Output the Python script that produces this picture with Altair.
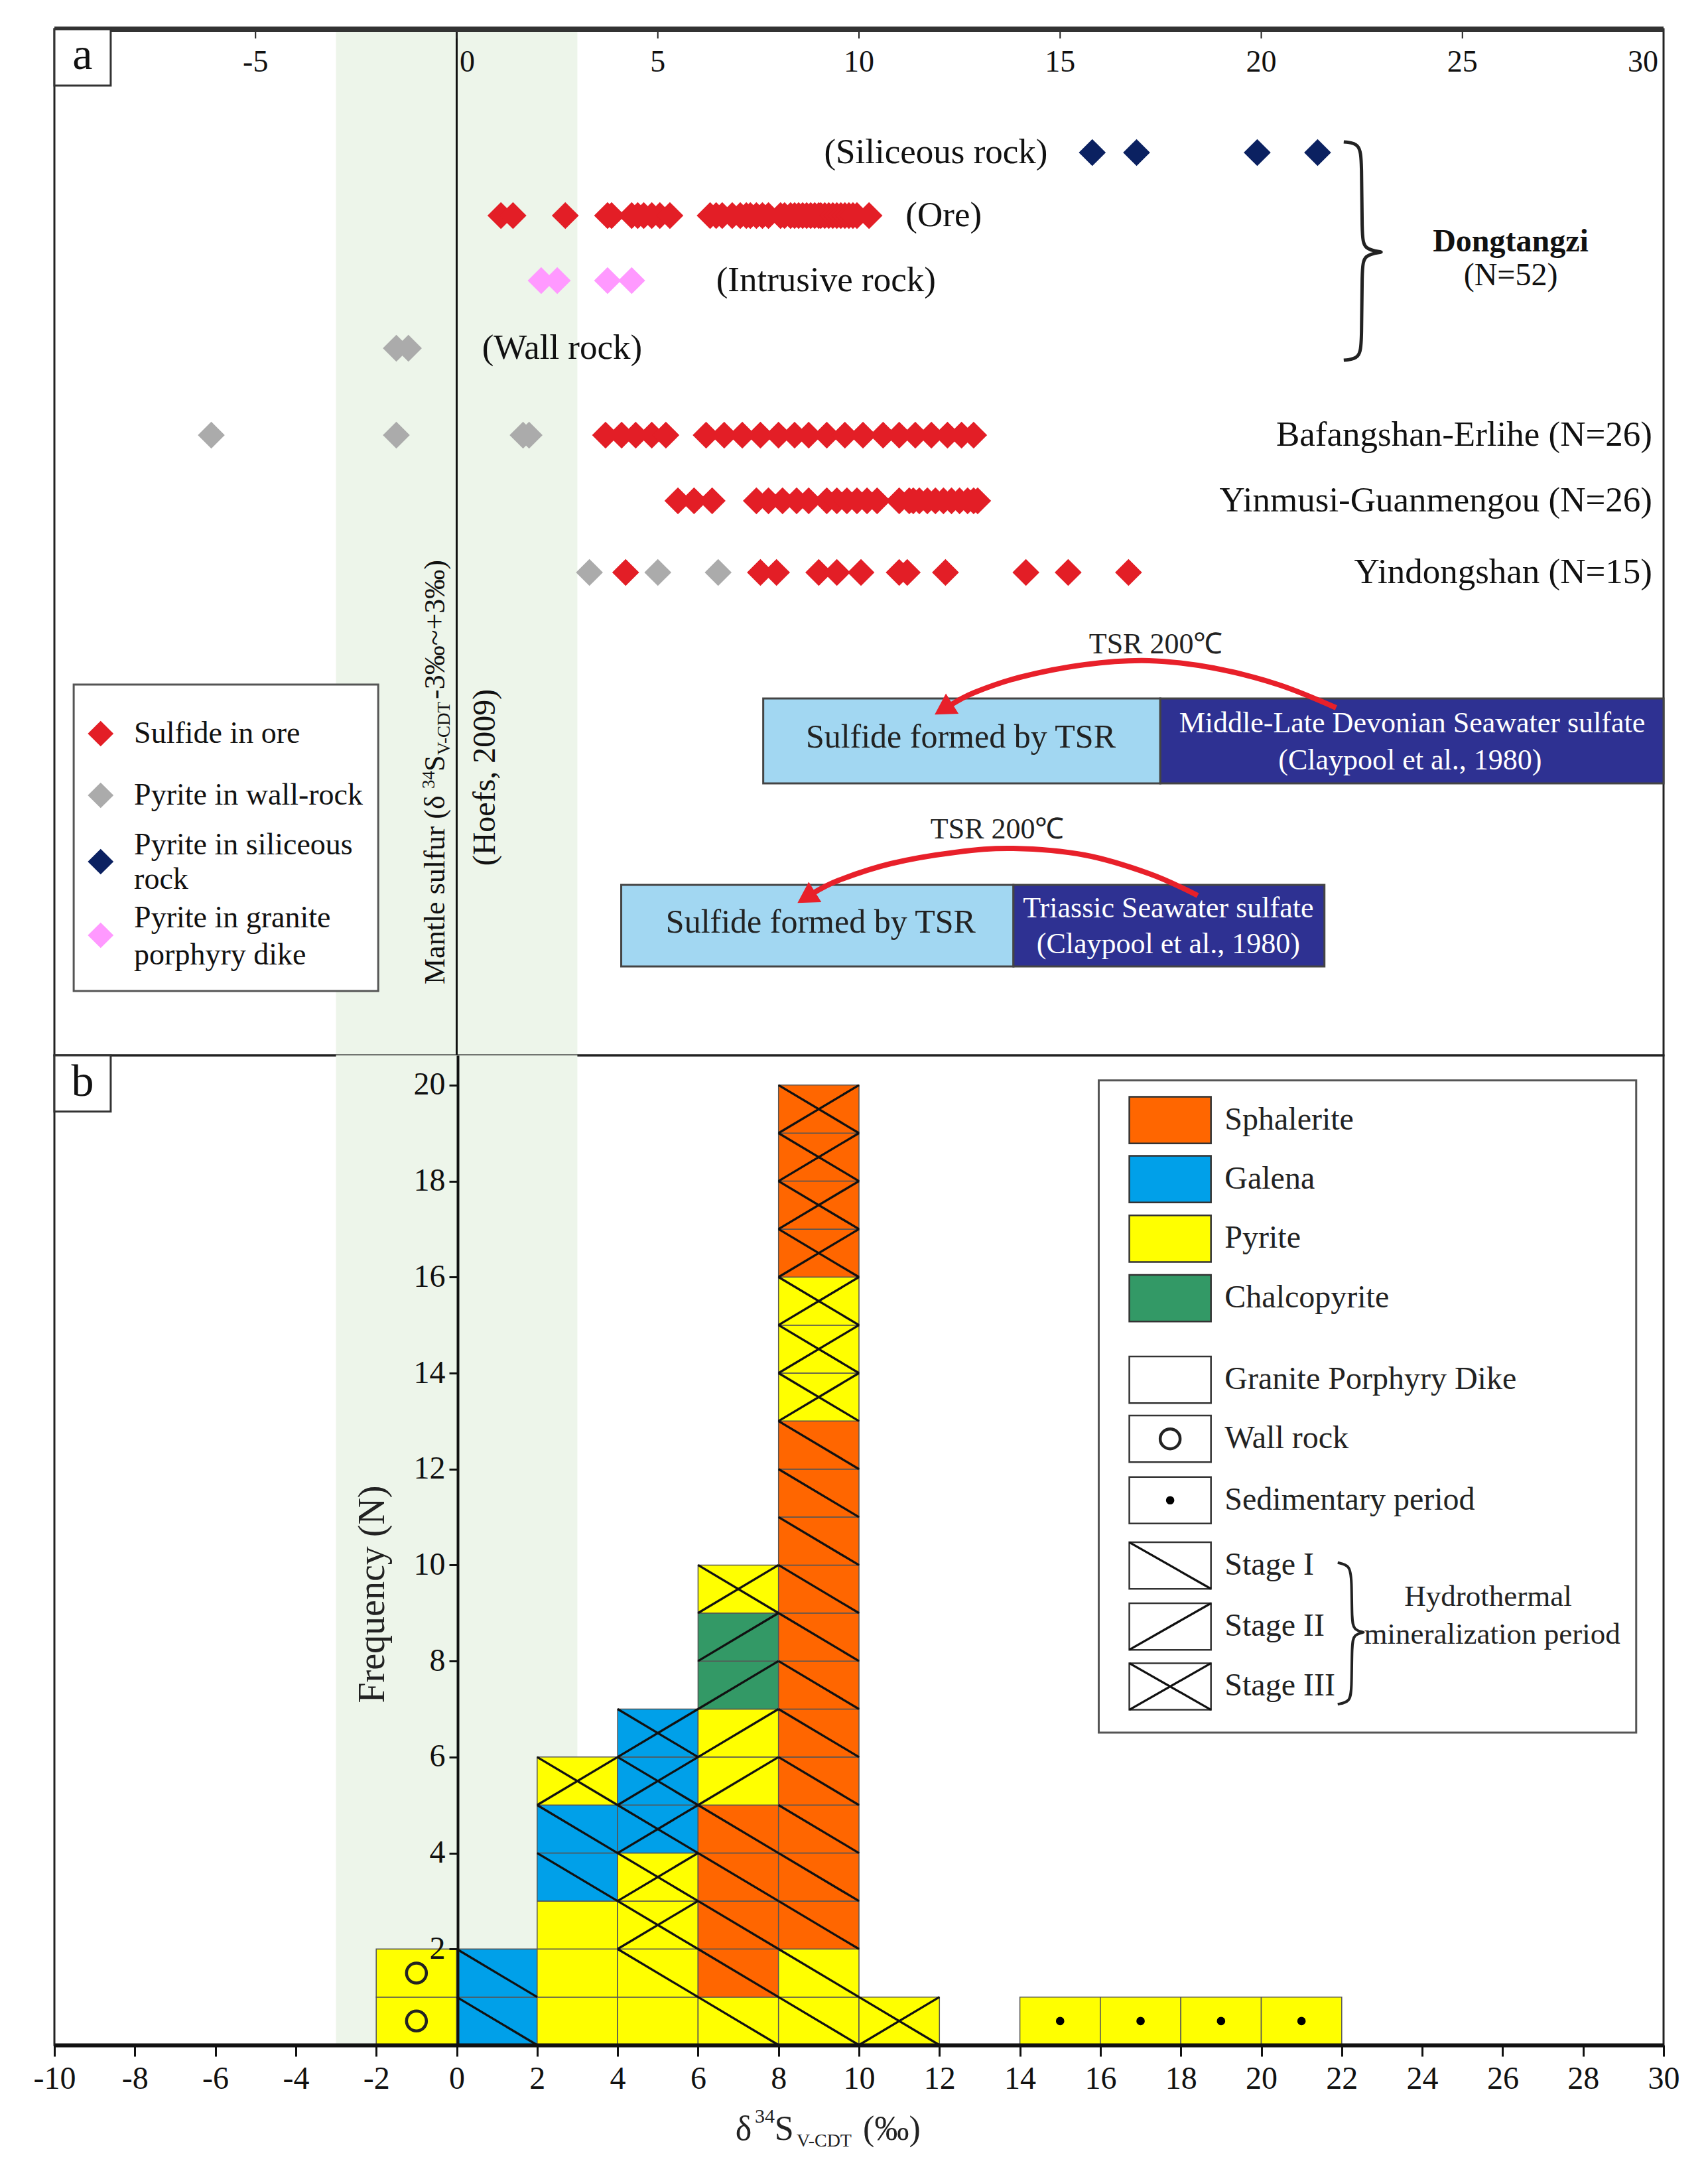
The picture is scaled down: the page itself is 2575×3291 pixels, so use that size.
import altair as alt
import pandas as pd

# ------------------------------------------------------------------ data
# panel a : individual δ34S analyses (‰)
siliceous_rock = [15.8, 16.9, 19.9, 21.4]
dongtangzi_ore = [1.1, 1.4, 2.7, 3.75, 3.85, 4.35, 4.5, 4.65, 4.85, 5.05, 5.3,
                  6.3, 6.45, 6.6, 6.85, 7.05, 7.2, 7.3, 7.45, 7.6, 7.75,
                  8.05, 8.15, 8.3, 8.4, 8.5, 8.6, 8.7, 8.8, 8.9, 9.0, 9.05, 9.15,
                  9.25, 9.35, 9.45, 9.55, 9.65, 9.75, 9.85, 9.95, 10.25]
intrusive_rock = [2.1, 2.5, 3.75, 4.35]
dongtangzi_wall = [-1.5, -1.2]
bafangshan_wall = [-6.1, -1.5, 1.65, 1.8]
bafangshan_ore = [3.7, 4.1, 4.45, 4.85, 5.2, 6.2, 6.65, 7.1, 7.55, 8.0, 8.4, 8.75,
                  9.2, 9.65, 10.1, 10.6, 11.0, 11.4, 11.8, 12.2, 12.55, 12.85]
yinmusi_ore = [5.5, 5.9, 6.35, 7.45, 7.75, 8.1, 8.45, 8.75, 9.2, 9.45, 9.7, 9.95,
               10.2, 10.45, 11.0, 11.25, 11.35, 11.5, 11.7, 11.9, 12.1, 12.3,
               12.5, 12.7, 12.85, 12.95]
yindongshan_wall = [3.3, 5.0, 6.5]
yindongshan_ore = [4.2, 7.55, 7.95, 9.0, 9.45, 10.05, 11.0, 11.2, 12.15, 14.15, 15.2, 16.7]

# seawater-sulfate / TSR ranges (‰)
devonian_tsr = [7.62, 17.49]
devonian_sulfate = [17.49, 30.0]
triassic_tsr = [4.09, 13.84]
triassic_sulfate = [13.84, 21.57]

# panel b : histogram, bin start -> cells stacked bottom-to-top "mineral:stage"
hist_bins = [-2, 0, 2, 4, 6, 8, 10, 14, 16, 18, 20]
hist_cells = [
    ["Py:W", "Py:W"],
    ["Gn:I", "Gn:I"],
    ["Py:D", "Py:D", "Py:D", "Gn:I", "Gn:I", "Py:III"],
    ["Py:D", "Py:I", "Py:III", "Py:III", "Gn:III", "Gn:III", "Gn:III"],
    ["Py:I", "Sp:I", "Sp:I", "Sp:I", "Sp:I", "Py:II", "Py:II", "Cp:II", "Cp:II", "Py:III"],
    ["Py:I", "Py:I"] + ["Sp:I"] * 11 + ["Py:III"] * 3 + ["Sp:III"] * 4,
    ["Py:III"],
    ["Py:S"], ["Py:S"], ["Py:S"], ["Py:S"],
]
minerals = ["Sp", "Gn", "Py", "Cp"]
mineral_names = ["Sphalerite", "Galena", "Pyrite", "Chalcopyrite"]
mineral_colors = ["#FF6600", "#00A0E9", "#FFFF00", "#339966"]

kinds = ["Sulfide in ore", "Pyrite in wall-rock", "Pyrite in siliceous rock",
         "Pyrite in granite porphyry dike"]
kind_colors = ["#E31E26", "#ABABAB", "#0B2161", "#FF99FF"]
KC = dict(zip(kinds, kind_colors))
MC = dict(zip(minerals, mineral_colors))

# ------------------------------------------------------------------ layout
FONT = "Liberation Serif"
W = 2426
HA_PX, HB_PX = 1547, 1492
HA = 15.47          # panel a vertical extent (track units)
HB = 20.62          # panel b vertical extent (frequency)
BAND = "#EDF5EA"
RED = "#E8202A"

XS = alt.Scale(domain=[-10, 30], nice=False, zero=False)
YA = alt.Scale(domain=[0, HA], reverse=True, nice=False, zero=False)
YB = alt.Scale(domain=[0, HB], nice=False, zero=False)

XB_AXIS = alt.Axis(values=list(range(-10, 31, 2)), labelExpr="'' + datum.value",
                   labelFont=FONT, labelFontSize=48, labelColor="#111",
                   tickSize=17, tickWidth=3, tickColor="#111", domainColor="#111",
                   domainWidth=6, labelPadding=10, title=None, grid=False,
                   labelFlush=False, labelOverlap=False, zindex=1)
YB_AXIS = alt.Axis(values=list(range(2, 21, 2)), offset=-608, labelFont=FONT,
                   labelFontSize=48, labelColor="#111", tickSize=13, tickWidth=3,
                   tickColor="#111", domainColor="#111", domainWidth=4,
                   labelPadding=6, title=None, grid=False, zindex=1)


def ea(**kw):
    out = {}
    for ch, f in kw.items():
        if ch == "x":
            out["x"] = alt.X(f, type="quantitative", scale=XS, axis=None)
        elif ch == "y":
            out["y"] = alt.Y(f, type="quantitative", scale=YA, axis=None)
        elif ch == "x2":
            out["x2"] = alt.X2(f)
        elif ch == "y2":
            out["y2"] = alt.Y2(f)
        else:
            out[ch] = f
    return out


def eb(**kw):
    out = {}
    for ch, f in kw.items():
        if ch == "x":
            out["x"] = alt.X(f, type="quantitative", scale=XS, axis=XB_AXIS)
        elif ch == "y":
            out["y"] = alt.Y(f, type="quantitative", scale=YB, axis=YB_AXIS)
        elif ch == "x2":
            out["x2"] = alt.X2(f)
        elif ch == "y2":
            out["y2"] = alt.Y2(f)
        else:
            out[ch] = f
    return out


def df(**cols):
    return pd.DataFrame(cols)


HEX = alt.Color("c:N", scale=None)

# ================================================================== panel a
ROW_Y = {"sil": 1.86, "ore": 2.81, "intr": 3.79, "wall": 4.81,
         "baf": 6.12, "yin": 7.11, "ydk": 8.19}

pts = []
for vals, row, kind in [
    (siliceous_rock, "sil", kinds[2]), (dongtangzi_ore, "ore", kinds[0]),
    (intrusive_rock, "intr", kinds[3]), (dongtangzi_wall, "wall", kinds[1]),
    (bafangshan_wall, "baf", kinds[1]), (bafangshan_ore, "baf", kinds[0]),
    (yinmusi_ore, "yin", kinds[0]),
    (yindongshan_wall, "ydk", kinds[1]), (yindongshan_ore, "ydk", kinds[0]),
]:
    for v in vals:
        pts.append({"x": v, "y": ROW_Y[row], "kind": kind, "c": KC[kind]})
pts = pd.DataFrame(pts)

a_layers = []
a_layers.append(alt.Chart(df(x=[-3], x2=[3], y=[0], y2=[HA])).mark_rect(color=BAND)
                .encode(**ea(x="x", x2="x2", y="y", y2="y2")))
a_layers.append(alt.Chart(df(x=[0], y=[0], y2=[HA])).mark_rule(color="#111", strokeWidth=3)
                .encode(**ea(x="x", y="y", y2="y2")))
# top scale
top_vals = [-5, 0, 5, 10, 15, 20, 25]
a_layers.append(alt.Chart(df(x=top_vals, y=[0] * 7, y2=[0.14] * 7))
                .mark_rule(color="#222", strokeWidth=2).encode(**ea(x="x", y="y", y2="y2")))
a_layers.append(alt.Chart(df(x=[-5, 5, 10, 15, 20, 25], y=[0.5] * 6,
                             t=["-5", "5", "10", "15", "20", "25"]))
                .mark_text(fontSize=46, color="#111").encode(**ea(x="x", y="y", text="t:N")))
a_layers.append(alt.Chart(df(x=[0], y=[0.5], t=["0"]))
                .mark_text(fontSize=46, color="#111", dx=16).encode(**ea(x="x", y="y", text="t:N")))
a_layers.append(alt.Chart(df(x=[30], y=[0.5], t=["30"]))
                .mark_text(fontSize=46, color="#111", align="right", dx=-8)
                .encode(**ea(x="x", y="y", text="t:N")))
a_layers.append(alt.Chart(df(x=[-10], x2=[30], y=[0])).mark_rule(color="#333", strokeWidth=8)
                .encode(**ea(x="x", x2="x2", y="y")))
# "a" box
a_layers.append(alt.Chart(df(x=[-10], x2=[-8.6], y=[0], y2=[0.85]))
                .mark_rect(fill="white", stroke="#333", strokeWidth=3)
                .encode(**ea(x="x", x2="x2", y="y", y2="y2")))
a_layers.append(alt.Chart(df(x=[-9.3], y=[0.40], t=["a"]))
                .mark_text(fontSize=68, color="#111").encode(**ea(x="x", y="y", text="t:N")))
# data diamonds
a_layers.append(alt.Chart(pts).mark_point(shape="diamond", filled=True, size=1650, opacity=1)
                .encode(**ea(x="x", y="y", color=HEX)))
# row labels
a_layers.append(alt.Chart(df(x=[14.69], y=[ROW_Y["sil"]], t=["(Siliceous rock)"]))
                .mark_text(fontSize=53, align="right", color="#111")
                .encode(**ea(x="x", y="y", text="t:N")))
a_layers.append(alt.Chart(df(x=[11.16, 6.45, 0.63],
                             y=[ROW_Y["ore"], ROW_Y["intr"], ROW_Y["wall"]],
                             t=["(Ore)", "(Intrusive rock)", "(Wall rock)"]))
                .mark_text(fontSize=53, align="left", color="#111")
                .encode(**ea(x="x", y="y", text="t:N")))
a_layers.append(alt.Chart(df(x=[29.72] * 3, y=[ROW_Y["baf"], ROW_Y["yin"], ROW_Y["ydk"]],
                             t=["Bafangshan-Erlihe (N=26)", "Yinmusi-Guanmengou (N=26)",
                                "Yindongshan (N=15)"]))
                .mark_text(fontSize=53, align="right", color="#111")
                .encode(**ea(x="x", y="y", text="t:N")))
# Dongtangzi brace + label
brace_a = df(x=[22.05, 22.45, 22.5, 22.5, 22.55, 23.0, 23.0, 22.55, 22.5, 22.5, 22.45, 22.05],
             y=[1.70, 1.72, 2.0, 3.1, 3.32, 3.36, 3.36, 3.40, 3.62, 4.7, 4.97, 4.99],
             i=list(range(12)))
a_layers.append(alt.Chart(brace_a).mark_line(interpolate="basis", color="#222", strokeWidth=5)
                .encode(**ea(x="x", y="y", order=alt.Order("i:Q"))))
a_layers.append(alt.Chart(df(x=[26.2], y=[3.21], t=["Dongtangzi"]))
                .mark_text(fontSize=48, fontWeight="bold", color="#111")
                .encode(**ea(x="x", y="y", text="t:N")))
a_layers.append(alt.Chart(df(x=[26.2], y=[3.72], t=["(N=52)"]))
                .mark_text(fontSize=48, color="#111").encode(**ea(x="x", y="y", text="t:N")))
# legend of panel a
a_layers.append(alt.Chart(df(x=[-9.52], x2=[-1.95], y=[9.88], y2=[14.5]))
                .mark_rect(fill="white", stroke="#555", strokeWidth=3)
                .encode(**ea(x="x", x2="x2", y="y", y2="y2")))
a_layers.append(alt.Chart(df(x=[-8.85] * 4, y=[10.62, 11.55, 12.55, 13.66], c=kind_colors))
                .mark_point(shape="diamond", filled=True, size=1500, opacity=1)
                .encode(**ea(x="x", y="y", color=HEX)))
a_layers.append(alt.Chart(df(x=[-8.02] * 6, y=[10.62, 11.55, 12.30, 12.82, 13.40, 13.96],
                             t=["Sulfide in ore", "Pyrite in wall-rock", "Pyrite in siliceous",
                                "rock", "Pyrite in granite", "porphyry dike"]))
                .mark_text(fontSize=46, align="left", color="#111")
                .encode(**ea(x="x", y="y", text="t:N")))
# mantle sulfur label (rotated)
for txt, fs, x, y in [("Mantle sulfur (δ", 44, -0.30, 14.40), ("34", 27, -0.56, 11.45),
                      ("S", 44, -0.30, 11.19), ("V-CDT", 27, -0.17, 10.94),
                      (" -3‰~+3‰)", 44, -0.30, 10.10)]:
    a_layers.append(alt.Chart(df(x=[x], y=[y], t=[txt]))
                    .mark_text(fontSize=fs, angle=270, align="left", baseline="alphabetic",
                               color="#111")
                    .encode(**ea(x="x", y="y", text="t:N")))
a_layers.append(alt.Chart(df(x=[0.94], y=[11.28], t=["(Hoefs, 2009)"]))
                .mark_text(fontSize=48, angle=270, align="center", baseline="alphabetic",
                           color="#111")
                .encode(**ea(x="x", y="y", text="t:N")))
# TSR boxes
tsr = df(x=[devonian_tsr[0], devonian_sulfate[0], triassic_tsr[0], triassic_sulfate[0]],
         x2=[devonian_tsr[1], devonian_sulfate[1], triassic_tsr[1], triassic_sulfate[1]],
         y=[10.09, 10.09, 12.90, 12.90], y2=[11.37, 11.37, 14.13, 14.13],
         c=["#A2D7F2", "#2E3192", "#A2D7F2", "#2E3192"])
a_layers.append(alt.Chart(tsr).mark_rect(stroke="#444", strokeWidth=3)
                .encode(**ea(x="x", x2="x2", y="y", y2="y2", color=HEX)))
a_layers.append(alt.Chart(df(x=[12.53, 9.05], y=[10.68, 13.47],
                             t=["Sulfide formed by TSR", "Sulfide formed by TSR"]))
                .mark_text(fontSize=50, color="#222").encode(**ea(x="x", y="y", text="t:N")))
a_layers.append(alt.Chart(df(x=[23.75, 23.7, 17.69, 17.69], y=[10.47, 11.03, 13.26, 13.80],
                             t=["Middle-Late Devonian Seawater sulfate", "(Claypool et al., 1980)",
                                "Triassic Seawater sulfate", "(Claypool et al., 1980)"]))
                .mark_text(fontSize=44, color="white").encode(**ea(x="x", y="y", text="t:N")))
a_layers.append(alt.Chart(df(x=[17.38, 13.44], y=[9.28, 12.07], t=["TSR  200℃", "TSR  200℃"]))
                .mark_text(fontSize=44, color="#222").encode(**ea(x="x", y="y", text="t:N")))
arcs = df(
    x=[21.86, 20.42, 18.81, 17.21, 15.61, 14.0, 12.87, 12.25,
       18.42, 17.21, 15.61, 13.84, 12.39, 10.79, 9.5, 8.85],
    y=[10.23, 9.88, 9.63, 9.52, 9.58, 9.77, 10.0, 10.2,
       13.06, 12.73, 12.45, 12.35, 12.41, 12.58, 12.83, 13.03],
    arc=["u"] * 8 + ["l"] * 8, i=list(range(8)) * 2)
a_layers.append(alt.Chart(arcs).mark_line(interpolate="cardinal", color=RED, strokeWidth=8)
                .encode(**ea(x="x", y="y", detail="arc:N", order=alt.Order("i:Q"))))
a_layers.append(alt.Chart(df(x=[12.1, 8.69], y=[10.25, 13.09]))
                .mark_point(shape="triangle-up", filled=True, size=1300, color=RED, opacity=1,
                            angle=238)
                .encode(**ea(x="x", y="y")))

panel_a = alt.layer(*a_layers).properties(width=W, height=HA_PX)

# ================================================================== panel b
cells, diags, rings, dots = [], [], [], []
for b, stack in zip(hist_bins, hist_cells):
    for i, code in enumerate(stack):
        m, st = code.split(":")
        cells.append(dict(x=b, x2=b + 2, y=i, y2=i + 1, c=MC[m]))
        if st in ("I", "III"):
            diags.append(dict(x=b, y=i + 1, x2=b + 2, y2=i))
        if st in ("II", "III"):
            diags.append(dict(x=b, y=i, x2=b + 2, y2=i + 1))
        if st == "W":
            rings.append(dict(x=b + 1, y=i + 0.5))
        if st == "S":
            dots.append(dict(x=b + 1, y=i + 0.5))

# legend of panel b (swatches in data units of the histogram)
LEG_Y = [19.27, 18.04, 16.80, 15.56, 13.86, 12.63, 11.35, 9.99, 8.72, 7.47]
LEG_T = mineral_names + ["Granite Porphyry Dike", "Wall rock", "Sedimentary period",
                         "Stage I", "Stage II", "Stage III"]
LEG_F = mineral_colors + ["#FFFFFF"] * 6
SX0, SX1, SH = 16.72, 18.75, 0.485
sw = df(x=[SX0] * 10, x2=[SX1] * 10, y=[v - SH for v in LEG_Y], y2=[v + SH for v in LEG_Y],
        c=LEG_F)
for v, st in zip(LEG_Y[7:], ["I", "II", "III"]):
    if st in ("I", "III"):
        diags.append(dict(x=SX0, y=v + SH, x2=SX1, y2=v - SH))
    if st in ("II", "III"):
        diags.append(dict(x=SX0, y=v - SH, x2=SX1, y2=v + SH))
rings.append(dict(x=(SX0 + SX1) / 2, y=LEG_Y[5]))
dots.append(dict(x=(SX0 + SX1) / 2, y=LEG_Y[6]))

b_layers = []
b_layers.append(alt.Chart(df(x=[-3], x2=[3], y=[0], y2=[HB])).mark_rect(color=BAND)
                .encode(**eb(x="x", x2="x2", y="y", y2="y2")))
b_layers.append(alt.Chart(df(x=[15.96], x2=[29.32], y=[6.51], y2=[20.1]))
                .mark_rect(fill="white", stroke="#555", strokeWidth=3)
                .encode(**eb(x="x", x2="x2", y="y", y2="y2")))
b_layers.append(alt.Chart(pd.DataFrame(cells)).mark_rect(stroke="#555", strokeWidth=1.5)
                .encode(**eb(x="x", x2="x2", y="y", y2="y2", color=HEX)))
b_layers.append(alt.Chart(sw).mark_rect(stroke="#333", strokeWidth=2.5)
                .encode(**eb(x="x", x2="x2", y="y", y2="y2", color=HEX)))
b_layers.append(alt.Chart(pd.DataFrame(diags)).mark_rule(color="#111", strokeWidth=3.3)
                .encode(**eb(x="x", y="y", x2="x2", y2="y2")))
b_layers.append(alt.Chart(pd.DataFrame(rings))
                .mark_point(shape="circle", filled=False, size=900, strokeWidth=4.5, color="#222",
                            opacity=1)
                .encode(**eb(x="x", y="y")))
b_layers.append(alt.Chart(pd.DataFrame(dots))
                .mark_point(shape="circle", filled=True, size=160, color="#000", opacity=1)
                .encode(**eb(x="x", y="y")))
b_layers.append(alt.Chart(df(x=[19.09] * 10, y=LEG_Y, t=LEG_T))
                .mark_text(fontSize=48, align="left", color="#222")
                .encode(**eb(x="x", y="y", text="t:N")))
brace_b = df(x=[21.9, 22.2, 22.25, 22.25, 22.3, 22.55, 22.55, 22.3, 22.25, 22.25, 22.2, 21.9],
             y=[10.05, 10.0, 9.7, 8.85, 8.65, 8.6, 8.6, 8.55, 8.35, 7.4, 7.15, 7.1],
             i=list(range(12)))
b_layers.append(alt.Chart(brace_b).mark_line(interpolate="basis", color="#222", strokeWidth=4)
                .encode(**eb(x="x", y="y", order=alt.Order("i:Q"))))
b_layers.append(alt.Chart(df(x=[25.64, 25.74], y=[9.34, 8.55],
                             t=["Hydrothermal", "mineralization period"]))
                .mark_text(fontSize=45, color="#222").encode(**eb(x="x", y="y", text="t:N")))
# "b" box
b_layers.append(alt.Chart(df(x=[-10], x2=[-8.6], y=[19.45], y2=[HB]))
                .mark_rect(fill="white", stroke="#333", strokeWidth=3)
                .encode(**eb(x="x", x2="x2", y="y", y2="y2")))
b_layers.append(alt.Chart(df(x=[-9.3], y=[20.06], t=["b"]))
                .mark_text(fontSize=68, color="#111").encode(**eb(x="x", y="y", text="t:N")))
# y title
b_layers.append(alt.Chart(df(x=[-1.81], y=[9.39], t=["Frequency (N)"]))
                .mark_text(fontSize=56, angle=270, align="center", baseline="alphabetic",
                           color="#222")
                .encode(**eb(x="x", y="y", text="t:N")))
# x title (δ34S V-CDT (‰))
for txt, fs, x, y in [("δ", 52, 6.93, -1.97), ("34", 30, 7.41, -1.62), ("S", 52, 7.90, -1.97),
                      ("V-CDT", 28, 8.45, -2.12), ("(‰)", 52, 10.10, -1.97)]:
    b_layers.append(alt.Chart(df(x=[x], y=[y], t=[txt]))
                    .mark_text(fontSize=fs, align="left", baseline="alphabetic", color="#222")
                    .encode(**eb(x="x", y="y", text="t:N")))

panel_b = alt.layer(*b_layers).properties(width=W, height=HB_PX)

chart = (alt.vconcat(panel_a, panel_b, spacing=0, bounds="flush")
         .properties(padding={"left": 40, "top": 30, "right": 30, "bottom": 20},
                     background="white")
         .configure(font=FONT)
         .configure_view(stroke="#222", strokeWidth=3))

chart.save("out.html", embed_options={"renderer": "svg", "actions": False})
